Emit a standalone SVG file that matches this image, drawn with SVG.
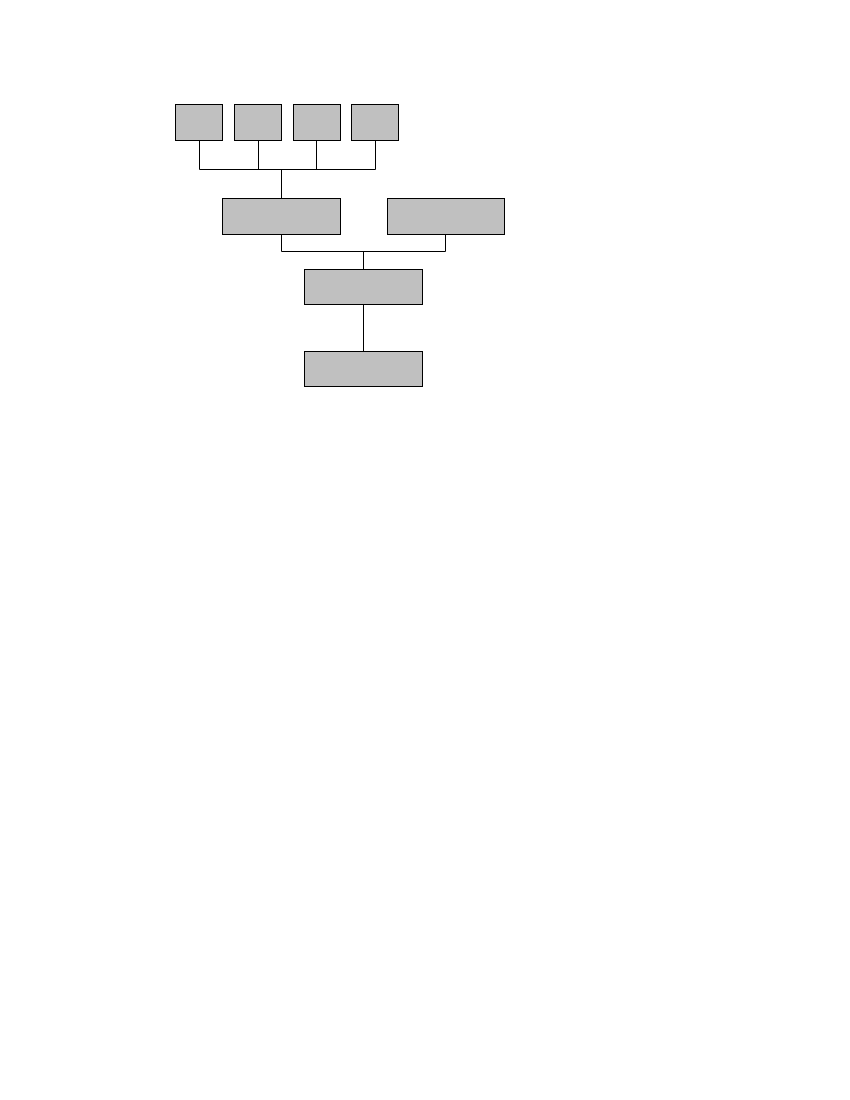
<svg xmlns="http://www.w3.org/2000/svg" width="850" height="1100" viewBox="0 0 850 1100">
<style>
.box{fill:#c0c0c0;stroke:#000;stroke-width:1}
.conn{fill:none;stroke:#000;stroke-width:1}
</style>
<rect width="850" height="1100" fill="#fff"/>
<g id="connectors">
<path class="conn" d="M199.5,140 V169.5 H375.5 V140 M258.5,140 V169.5 M316.5,140 V169.5 M281.5,169.5 V198.5"/>
<path class="conn" d="M281.5,234.5 V251.5 H445.5 V234.5 M363.5,251.5 V269.5"/>
<path class="conn" d="M363.5,304.5 V351.5"/>
</g>
<g id="n1"><rect class="box" x="175.5" y="104.5" width="47" height="36"/></g>
<g id="n2"><rect class="box" x="234.5" y="104.5" width="47" height="36"/></g>
<g id="n3"><rect class="box" x="293.5" y="104.5" width="47" height="36"/></g>
<g id="n4"><rect class="box" x="351.5" y="104.5" width="47" height="36"/></g>
<g id="n5"><rect class="box" x="222.5" y="198.5" width="118" height="36"/></g>
<g id="n6"><rect class="box" x="387.5" y="198.5" width="117" height="36"/></g>
<g id="n7"><rect class="box" x="304.5" y="269.5" width="118" height="35"/></g>
<g id="n8"><rect class="box" x="304.5" y="351.5" width="118" height="35"/></g>
</svg>
